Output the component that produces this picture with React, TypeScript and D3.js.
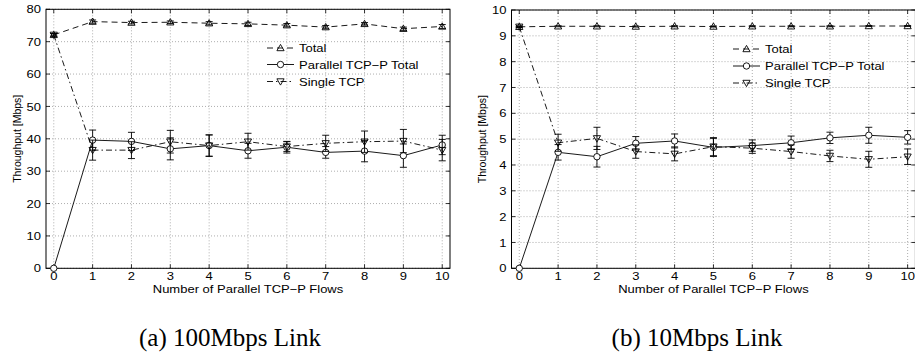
import React, { useEffect, useRef } from 'react';
import * as d3 from 'd3';

// number of parallel TCP-P flows
const flows = [0, 1, 2, 3, 4, 5, 6, 7, 8, 9, 10];

// (a) 100Mbps link
const totalA = [72.1, 76.2, 75.9, 76.0, 75.7, 75.5, 75.1, 74.5, 75.5, 74.0, 74.7];
const totalAErr = [0.4, 0.5, 0.4, 0.4, 0.5, 0.5, 0.5, 0.5, 0.4, 0.5, 0.6];
const parallelA = [0, 39.6, 39.2, 36.9, 37.9, 36.3, 37.4, 35.8, 36.2, 34.8, 38.1];
const parallelAErr = [0, 3.1, 2.8, 3.4, 3.3, 2.3, 1.8, 1.8, 3.3, 3.6, 3.0];
const singleA = [72.1, 36.5, 36.5, 39.1, 37.9, 39.1, 37.6, 38.6, 39.1, 39.3, 36.5];
const singleAErr = [0.4, 3.1, 2.6, 3.5, 3.3, 2.6, 1.5, 2.5, 3.3, 3.6, 3.3];
const yTicksA = [0, 10, 20, 30, 40, 50, 60, 70, 80];

// (b) 10Mbps link
const totalB = [9.35, 9.37, 9.37, 9.36, 9.37, 9.36, 9.37, 9.37, 9.37, 9.38, 9.38];
const totalBErr = [0.02, 0.02, 0.02, 0.02, 0.02, 0.02, 0.02, 0.02, 0.02, 0.02, 0.02];
const parallelB = [0, 4.49, 4.32, 4.84, 4.93, 4.68, 4.75, 4.86, 5.05, 5.15, 5.07];
const parallelBErr = [0, 0.3, 0.4, 0.26, 0.27, 0.35, 0.22, 0.26, 0.22, 0.31, 0.26];
const singleB = [9.35, 4.86, 5.03, 4.52, 4.43, 4.71, 4.65, 4.52, 4.35, 4.22, 4.32];
const singleBErr = [0.03, 0.33, 0.43, 0.26, 0.27, 0.35, 0.2, 0.26, 0.22, 0.31, 0.3];
const yTicksB = [0, 1, 2, 3, 4, 5, 6, 7, 8, 9, 10];

const seriesNames = ['Total', 'Parallel TCP\u2212P Total', 'Single TCP'];
const xLabel = 'Number of Parallel TCP\u2212P Flows';
const yLabel = 'Throughput [Mbps]';

const FONT = '"Liberation Sans", Arial, Helvetica, sans-serif';
// the original figure is stretched a bit horizontally
const SX = 1.13;

type PanelDef = {
  left: number; right: number; top: number; bottom: number;
  yMax: number; yTicks: number[];
  series: { values: number[]; err: number[] }[];
  legendX: number; legendY: number[];
  yLabelX: number;
  caption: string; captionX: number;
};

const panels: PanelDef[] = [
  {
    left: 46, right: 450, top: 9.3, bottom: 268.3, yMax: 80, yTicks: yTicksA,
    series: [
      { values: totalA, err: totalAErr },
      { values: parallelA, err: parallelAErr },
      { values: singleA, err: singleAErr },
    ],
    legendX: 267, legendY: [48, 64.5, 81.5], yLabelX: 20.5,
    caption: '(a) 100Mbps Link', captionX: 230,
  },
  {
    left: 511.5, right: 915.4, top: 10, bottom: 268.3, yMax: 10, yTicks: yTicksB,
    series: [
      { values: totalB, err: totalBErr },
      { values: parallelB, err: parallelBErr },
      { values: singleB, err: singleBErr },
    ],
    legendX: 733, legendY: [49, 66, 83], yLabelX: 486,
    caption: '(b) 10Mbps Link', captionX: 697,
  },
];

const dashes = ['6,4', null, '6,3,1.5,3'];

function label(g: any, x: number, y: number, str: any, size: number, anchor = 'start') {
  return g.append('text')
    .attr('transform', `translate(${x},${y}) scale(${SX},1)`)
    .attr('text-anchor', anchor).attr('font-family', FONT).attr('font-size', size)
    .text(str);
}

function drawMarker(g: any, kind: number, x: number, y: number) {
  if (kind === 1) {
    g.append('circle').attr('cx', x).attr('cy', y).attr('r', 3.2)
      .attr('fill', 'white').attr('stroke', 'black').attr('stroke-width', 0.9);
  } else {
    const s = 3.6;
    const d = kind === 0
      ? `M${x},${y - s}L${x + s},${y + s * 0.75}L${x - s},${y + s * 0.75}Z`
      : `M${x},${y + s}L${x + s},${y - s * 0.75}L${x - s},${y - s * 0.75}Z`;
    g.append('path').attr('d', d).attr('fill', 'none')
      .attr('stroke', 'black').attr('stroke-width', 0.9);
  }
}

const App = () => {
  const svgRef = useRef<SVGSVGElement>(null);

  useEffect(() => {
    const svg = d3.select(svgRef.current);
    svg.selectAll('*').remove();

    panels.forEach((p) => {
      const x = d3.scaleLinear().domain([-0.2, 10.2]).range([p.left, p.right]);
      const y = d3.scaleLinear().domain([0, p.yMax]).range([p.bottom, p.top]);
      const g = svg.append('g');

      // dotted grid
      g.append('g').selectAll('line').data(flows).join('line')
        .attr('x1', d => x(d)).attr('x2', d => x(d))
        .attr('y1', p.top).attr('y2', p.bottom)
        .attr('stroke', '#999').attr('stroke-width', 0.8).attr('stroke-dasharray', '1,2');
      g.append('g').selectAll('line').data(p.yTicks).join('line')
        .attr('x1', p.left).attr('x2', p.right)
        .attr('y1', d => y(d)).attr('y2', d => y(d))
        .attr('stroke', '#999').attr('stroke-width', 0.8).attr('stroke-dasharray', '1,2');

      // inward ticks on all sides
      const tl = 4;
      const ticks = g.append('g').attr('stroke', 'black').attr('stroke-width', 0.8);
      flows.forEach(d => {
        ticks.append('line').attr('x1', x(d)).attr('x2', x(d)).attr('y1', p.bottom).attr('y2', p.bottom - tl);
        ticks.append('line').attr('x1', x(d)).attr('x2', x(d)).attr('y1', p.top).attr('y2', p.top + tl);
      });
      p.yTicks.forEach(d => {
        ticks.append('line').attr('x1', p.left).attr('x2', p.left + tl).attr('y1', y(d)).attr('y2', y(d));
        ticks.append('line').attr('x1', p.right).attr('x2', p.right - tl).attr('y1', y(d)).attr('y2', y(d));
      });

      // box
      g.append('rect').attr('x', p.left).attr('y', p.top)
        .attr('width', p.right - p.left).attr('height', p.bottom - p.top)
        .attr('fill', 'none').attr('stroke', 'black').attr('stroke-width', 1);

      // tick labels
      flows.forEach(d => label(g, x(d), 280, d, 11.5, 'middle'));
      p.yTicks.forEach(d => label(g, p.left - 5, y(d) + 4.1, d, 11.5, 'end'));

      // axis titles
      label(g, (x(0) + x(10)) / 2, 293.2, xLabel, 11.5, 'middle');
      g.append('text')
        .attr('transform', `translate(${p.yLabelX},${(p.top + p.bottom) / 2}) rotate(-90)`)
        .attr('text-anchor', 'middle').attr('font-family', FONT).attr('font-size', 10.5)
        .text(yLabel);

      // series
      p.series.forEach((s, k) => {
        const pts = flows.map((f, i) => ({ f, v: s.values[i], e: s.err[i] }));
        const line = d3.line<any>().x(d => x(d.f)).y(d => y(d.v));
        g.append('path').datum(pts).attr('d', line)
          .attr('fill', 'none').attr('stroke', 'black').attr('stroke-width', 0.9)
          .attr('stroke-dasharray', dashes[k]);
        const eb = g.append('g').attr('stroke', 'black').attr('stroke-width', 0.9);
        pts.forEach(d => {
          if (!d.e) return;
          const cx = x(d.f);
          const y0 = y(d.v - d.e);
          const y1 = y(d.v + d.e);
          eb.append('line').attr('x1', cx).attr('x2', cx).attr('y1', y0).attr('y2', y1);
          eb.append('line').attr('x1', cx - 3.5).attr('x2', cx + 3.5).attr('y1', y0).attr('y2', y0);
          eb.append('line').attr('x1', cx - 3.5).attr('x2', cx + 3.5).attr('y1', y1).attr('y2', y1);
        });
        const mk = g.append('g');
        pts.forEach(d => drawMarker(mk, k, x(d.f), y(d.v)));
      });

      // legend
      seriesNames.forEach((name, k) => {
        const ly = p.legendY[k];
        g.append('line').attr('x1', p.legendX).attr('x2', p.legendX + 27)
          .attr('y1', ly).attr('y2', ly)
          .attr('stroke', 'black').attr('stroke-width', 0.9).attr('stroke-dasharray', dashes[k]);
        drawMarker(g, k, p.legendX + 13.5, ly);
        label(g, p.legendX + 32, ly + 4.2, name, 11.5);
      });

      // caption
      g.append('text')
        .attr('x', p.captionX).attr('y', 346)
        .attr('text-anchor', 'middle').attr('font-family', '"Liberation Serif", serif')
        .attr('font-size', 25).text(p.caption);
    });
  }, []);

  return (
    <svg ref={svgRef} width={915} height={360}
      style={{ position: 'absolute', left: 0, top: 0, background: 'white' }} />
  );
};

export default App;
